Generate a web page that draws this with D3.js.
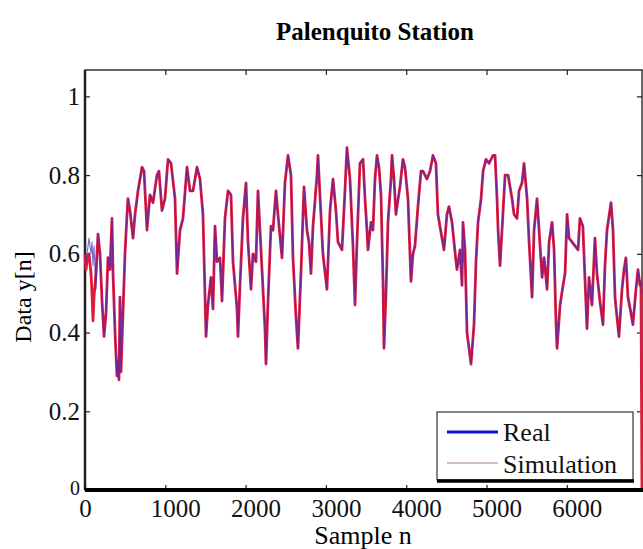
<!DOCTYPE html>
<html lang="en">
<head>
<meta charset="utf-8">
<title>Palenquito Station</title>
<script src="https://d3js.org/d3.v7.min.js"></script>
<style>
  body { margin: 0; background: #fff; }
  svg { font-family: "Liberation Serif", "DejaVu Serif", serif; }
  .axis path { display: none; }
  .axis line { stroke: #222; stroke-width: 1.2; }
  .axis text { fill: #111; font-size: 25px; font-family: "Liberation Serif", "DejaVu Serif", serif; }
</style>
</head>
<body>
<div id="chart"></div>
<script>
// sample index n of each read point
var sampleN = [
  0,12,25,50,75,87,100,112,137,162,
  187,212,237,262,286,311,336,349,374,398,
  411,423,436,448,473,498,523,535,560,598,
  623,660,710,735,772,809,847,896,921,959,
  996,1034,1071,1121,1146,1183,1220,1270,1308,1345,
  1395,1432,1469,1507,1531,1569,1594,1619,1644,1681,
  1706,1743,1781,1818,1843,1893,1905,1930,1967,2005,
  2030,2067,2092,2129,2154,2204,2241,2254,2279,2316,
  2341,2378,2403,2453,2490,2528,2565,2590,2627,2652,
  2689,2727,2764,2789,2814,2839,2889,2901,2938,2963,
  3013,3051,3088,3125,3150,3200,3237,3262,3300,3337,
  3362,3387,3424,3462,3487,3511,3524,3561,3586,3611,
  3636,3661,3686,3711,3723,3748,3773,3810,3823,3848,
  3872,3885,3922,3959,3984,4022,4059,4084,4109,4146,
  4184,4209,4258,4296,4333,4370,4395,4445,4470,4507,
  4532,4570,4595,4620,4632,4670,4695,4707,4732,4757,
  4807,4844,4869,4894,4932,4957,4994,5031,5081,5106,
  5131,5144,5168,5193,5231,5268,5318,5343,5380,5405,
  5442,5467,5505,5530,5567,5592,5629,5654,5692,5717,
  5754,5779,5816,5841,5866,5878,5916,5953,5978,6003,
  6028,6140,6163,6200,6225,6251,6276,6313,6350,6375,
  6412,6450,6475,6500,6550,6575,6600,6624,6649,6687,
  6712,6736,6761,6798,6823,6861,6886,6911,6923,6936
];

var realValues = [
  0.60,0.58,0.60,0.64,0.60,0.63,0.57,0.62,0.51,0.65,
  0.60,0.48,0.39,0.45,0.59,0.56,0.69,0.55,0.40,0.29,
  0.33,0.28,0.49,0.30,0.45,0.60,0.70,0.74,0.71,0.64,
  0.70,0.76,0.82,0.81,0.66,0.75,0.73,0.80,0.81,0.71,
  0.74,0.84,0.83,0.74,0.55,0.66,0.69,0.82,0.76,0.76,
  0.82,0.79,0.70,0.39,0.47,0.54,0.46,0.67,0.58,0.59,
  0.48,0.69,0.76,0.75,0.58,0.46,0.39,0.52,0.69,0.78,
  0.63,0.51,0.60,0.58,0.76,0.56,0.41,0.32,0.48,0.67,
  0.66,0.76,0.70,0.59,0.78,0.85,0.80,0.59,0.44,0.36,
  0.55,0.77,0.66,0.63,0.55,0.67,0.80,0.85,0.70,0.60,
  0.51,0.71,0.79,0.71,0.63,0.61,0.76,0.87,0.79,0.62,
  0.47,0.63,0.83,0.84,0.74,0.66,0.61,0.68,0.66,0.79,
  0.85,0.82,0.75,0.53,0.36,0.50,0.68,0.79,0.85,0.79,
  0.70,0.72,0.77,0.84,0.82,0.74,0.53,0.60,0.62,0.72,
  0.81,0.81,0.79,0.81,0.85,0.83,0.70,0.64,0.61,0.70,
  0.72,0.68,0.63,0.58,0.56,0.61,0.52,0.68,0.61,0.40,
  0.32,0.42,0.58,0.68,0.74,0.81,0.84,0.83,0.85,0.85,
  0.74,0.66,0.57,0.66,0.80,0.80,0.74,0.70,0.69,0.76,
  0.78,0.83,0.74,0.63,0.49,0.66,0.74,0.66,0.54,0.59,
  0.51,0.63,0.68,0.61,0.42,0.36,0.47,0.52,0.55,0.70,
  0.64,0.61,0.69,0.67,0.54,0.41,0.54,0.47,0.64,0.55,
  0.48,0.42,0.57,0.66,0.73,0.66,0.49,0.44,0.39,0.51,
  0.56,0.59,0.49,0.45,0.42,0.51,0.56,0.52,0.53,0.50
];

var simValues = [
  0.60,0.56,0.58,0.60,0.55,0.50,0.43,0.49,0.55,0.65,
  0.60,0.48,0.39,0.45,0.59,0.56,0.69,0.55,0.40,0.29,
  0.33,0.28,0.49,0.30,0.45,0.60,0.70,0.74,0.71,0.64,
  0.70,0.76,0.82,0.81,0.66,0.75,0.73,0.80,0.81,0.71,
  0.74,0.84,0.83,0.74,0.55,0.66,0.69,0.82,0.76,0.76,
  0.82,0.79,0.70,0.39,0.47,0.54,0.46,0.67,0.58,0.59,
  0.48,0.69,0.76,0.75,0.58,0.46,0.39,0.52,0.69,0.78,
  0.63,0.51,0.60,0.58,0.76,0.56,0.41,0.32,0.48,0.67,
  0.66,0.76,0.70,0.59,0.78,0.85,0.80,0.59,0.44,0.36,
  0.55,0.77,0.66,0.63,0.55,0.67,0.80,0.85,0.70,0.60,
  0.51,0.71,0.79,0.71,0.63,0.61,0.76,0.87,0.79,0.62,
  0.47,0.63,0.83,0.84,0.74,0.66,0.61,0.68,0.66,0.79,
  0.85,0.82,0.75,0.53,0.36,0.50,0.68,0.79,0.85,0.79,
  0.70,0.72,0.77,0.84,0.82,0.74,0.53,0.60,0.62,0.72,
  0.81,0.81,0.79,0.81,0.85,0.83,0.70,0.64,0.61,0.70,
  0.72,0.68,0.63,0.58,0.56,0.61,0.52,0.68,0.61,0.40,
  0.32,0.42,0.58,0.68,0.74,0.81,0.84,0.83,0.85,0.85,
  0.74,0.66,0.57,0.66,0.80,0.80,0.74,0.70,0.69,0.76,
  0.78,0.83,0.74,0.63,0.49,0.66,0.74,0.66,0.54,0.59,
  0.51,0.63,0.68,0.61,0.42,0.36,0.47,0.52,0.55,0.70,
  0.64,0.61,0.69,0.67,0.54,0.41,0.54,0.47,0.64,0.55,
  0.48,0.42,0.57,0.66,0.73,0.66,0.49,0.44,0.39,0.51,
  0.56,0.59,0.49,0.45,0.42,0.51,0.56,0.52,0.53,0.00
];

var xTicks = [0, 1000, 2000, 3000, 4000, 5000, 6000];
var yTicks = [0, 0.2, 0.4, 0.6, 0.8, 1];
var seriesNames = ["Real", "Simulation"];

// layout
var W = 643, H = 549;
var plotLeft = 85, plotRight = 642, plotTop = 70, plotBottom = 490;

var svg = d3.select("#chart")
  .append("svg")
    .attr("width", W)
    .attr("height", H);

var x = d3.scaleLinear().domain([0, 6936]).range([plotLeft, plotRight]);
var y = d3.scaleLinear().domain([0, 1.067]).range([plotBottom, plotTop]);

// frame
svg.append("rect")
  .attr("x", plotLeft).attr("y", plotTop)
  .attr("width", plotRight - plotLeft).attr("height", plotBottom - plotTop)
  .attr("fill", "none").attr("stroke", "#333").attr("stroke-width", 1.5);
svg.append("line")
  .attr("x1", plotLeft).attr("x2", plotLeft).attr("y1", plotTop).attr("y2", plotBottom)
  .attr("stroke", "#222").attr("stroke-width", 2.5);

// axes, ticks pointing inward
svg.append("g")
  .attr("class", "axis")
  .attr("transform", "translate(" + plotLeft + ",0)")
  .call(d3.axisLeft(y).tickValues(yTicks).tickSize(-5).tickPadding(5)
    .tickFormat(function(d) { return d; }))
  .selectAll("text")
    .style("font-size", function(d) { return d === 0 ? "20px" : "25px"; })
    .attr("dy", function(d) { return d === 0 ? "0.2em" : "0.32em"; });

svg.append("g")
  .attr("class", "axis")
  .attr("transform", "translate(0," + plotBottom + ")")
  .call(d3.axisBottom(x).tickValues(xTicks).tickSize(-5).tickPadding(9)
    .tickFormat(function(d) { return d; }))
  .selectAll("text")
    .attr("dx", function(d) { return d === 0 ? 0 : 10; });

svg.append("g")
  .attr("class", "axis")
  .attr("transform", "translate(0," + plotTop + ")")
  .call(d3.axisTop(x).tickValues(xTicks.slice(1)).tickSize(-5).tickFormat(""));

svg.append("g")
  .attr("class", "axis")
  .attr("transform", "translate(" + plotRight + ",0)")
  .call(d3.axisRight(y).tickValues(yTicks.slice(1)).tickSize(-5).tickFormat(""));

// lines
var lineGen = d3.line()
  .x(function(d, i) { return x(sampleN[i]); })
  .y(function(d) { return y(d); });

svg.append("path")
  .datum(simValues)
  .attr("d", lineGen)
  .attr("fill", "none")
  .attr("stroke", "#e01a3c")
  .attr("stroke-width", 2.8)
  .attr("stroke-linejoin", "round");

svg.append("path")
  .datum(realValues)
  .attr("d", lineGen)
  .attr("fill", "none")
  .attr("stroke", "#3a2cc0")
  .attr("stroke-width", 1.1)
  .attr("stroke-opacity", 0.7)
  .attr("stroke-linejoin", "round");

// thick bottom axis line
svg.append("line")
  .attr("x1", plotLeft).attr("x2", W).attr("y1", plotBottom).attr("y2", plotBottom)
  .attr("stroke", "#000").attr("stroke-width", 4);

// legend
var lg = svg.append("g");
lg.append("rect")
  .attr("x", 437).attr("y", 412).attr("width", 196).attr("height", 68)
  .attr("fill", "#fff").attr("stroke", "#333").attr("stroke-width", 1.2);
lg.append("line")
  .attr("x1", 437).attr("x2", 634).attr("y1", 481).attr("y2", 481)
  .attr("stroke", "#000").attr("stroke-width", 3.5);
lg.append("line")
  .attr("x1", 447).attr("x2", 498).attr("y1", 432).attr("y2", 432)
  .attr("stroke", "#0a14d8").attr("stroke-width", 3);
lg.append("line")
  .attr("x1", 447).attr("x2", 498).attr("y1", 463).attr("y2", 463)
  .attr("stroke", "#c4aaa8").attr("stroke-width", 1.5);
lg.selectAll("text.lab")
  .data(seriesNames)
  .enter().append("text")
    .attr("x", 503)
    .attr("y", function(d, i) { return 441 + i * 32; })
    .style("font-size", "26px")
    .style("fill", "#111")
    .text(function(d) { return d; });

// titles
svg.append("text")
  .attr("x", 375).attr("y", 40)
  .attr("text-anchor", "middle")
  .style("font-size", "25px").style("font-weight", "bold")
  .text("Palenquito Station");

svg.append("text")
  .attr("x", 363).attr("y", 544)
  .attr("text-anchor", "middle")
  .style("font-size", "26px")
  .text("Sample n");

svg.append("text")
  .attr("transform", "translate(31,297) rotate(-90)")
  .attr("text-anchor", "middle")
  .style("font-size", "24px")
  .text("Data y[n]");
</script>
</body>
</html>
